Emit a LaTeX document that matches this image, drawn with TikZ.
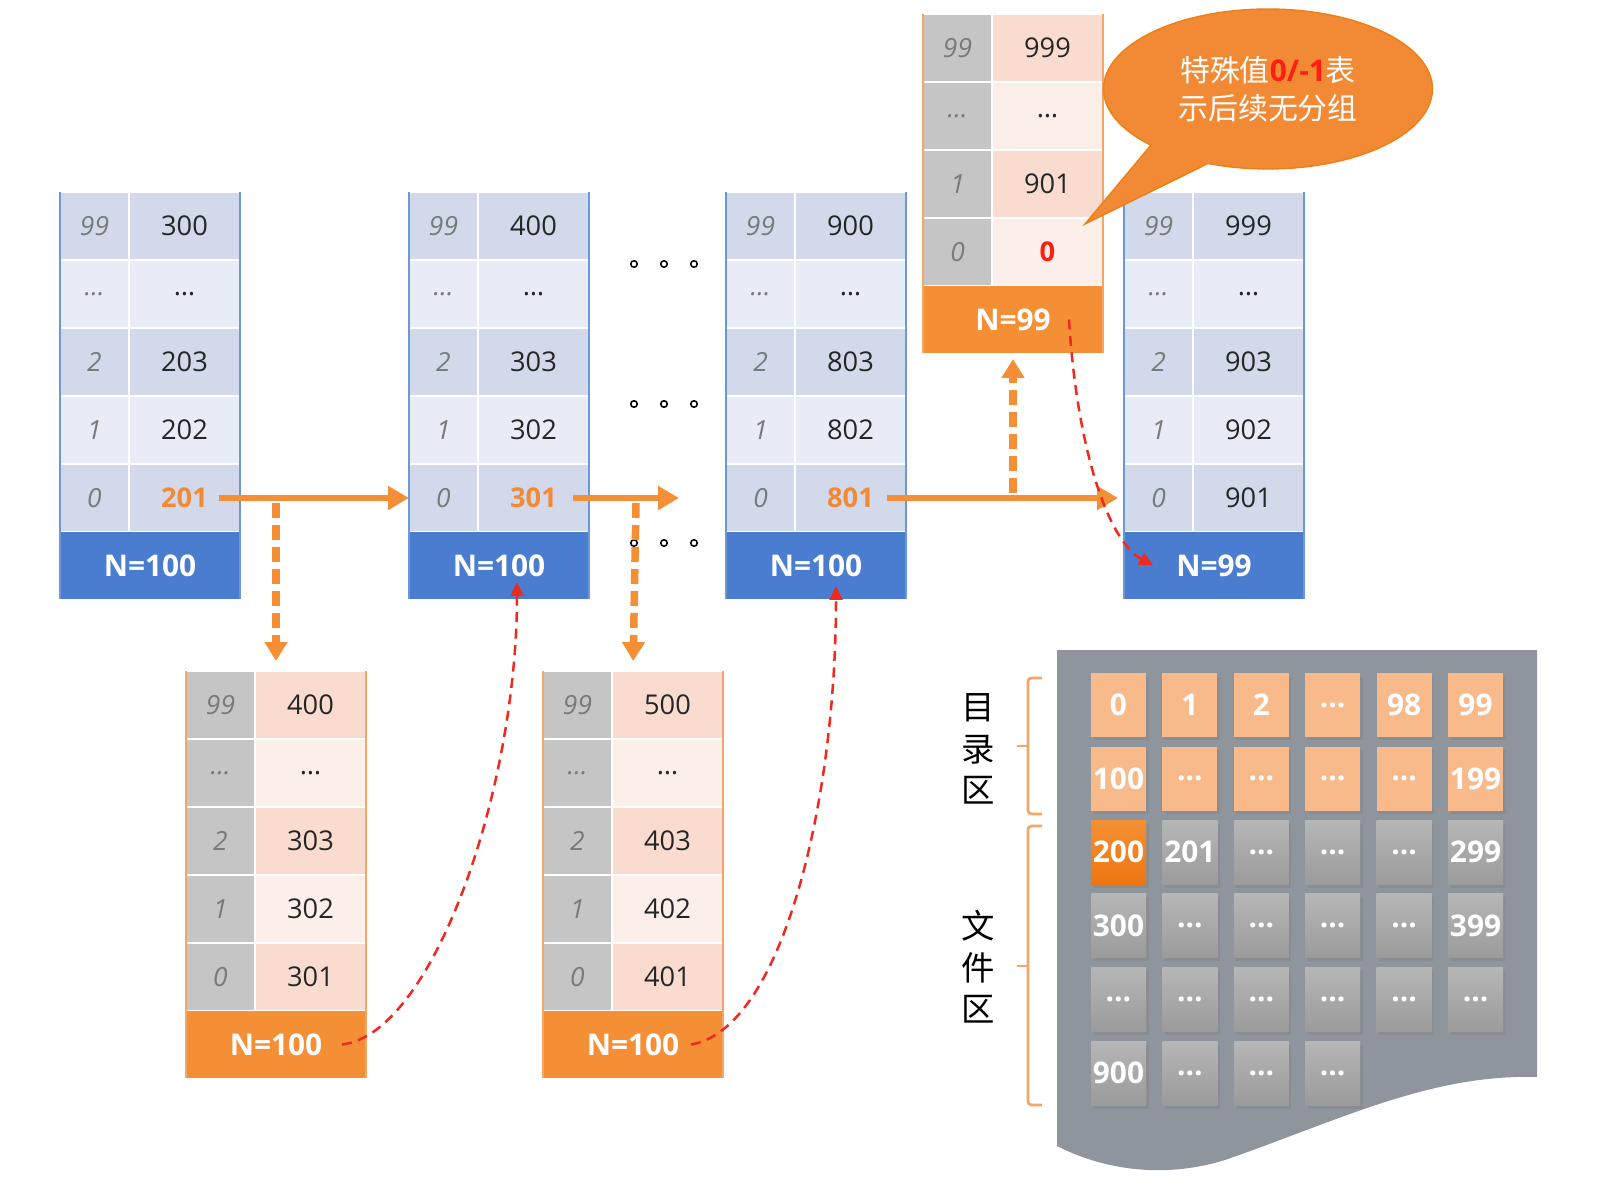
\documentclass[tikz,border=0pt]{standalone}
\usepackage{fontspec}
\setmainfont{Open Sans}
\newfontfamily\cjk{Noto Sans CJK SC}
\usepackage{xcolor}
\usepackage{tikz}
\usetikzlibrary{arrows.meta, calc, shapes.callouts, shadows}

% table colours: <set>i/v <band>, footer n, edge e
\definecolor{blueidark}{HTML}{D2D9EB}
\definecolor{blueilite}{HTML}{E7ECF6}
\definecolor{bluevdark}{HTML}{D2D9EB}
\definecolor{bluevlite}{HTML}{E7ECF6}
\definecolor{bluen}{HTML}{4A7DCF}
\definecolor{bluee}{HTML}{6E97DA}
\definecolor{orgidark}{HTML}{C5C5C5}
\definecolor{orgilite}{HTML}{C5C5C5}
\definecolor{orgvdark}{HTML}{FADBCF}
\definecolor{orgvlite}{HTML}{FCEEE9}
\definecolor{orgn}{HTML}{F58F35}
\definecolor{orge}{HTML}{F2A66A}
\definecolor{hotorange}{HTML}{F28A35}
\definecolor{alertred}{HTML}{FF1E0F}
\definecolor{linkorange}{HTML}{F58F35}
\definecolor{linkred}{HTML}{EE2A1E}
\definecolor{panelgray}{HTML}{8F959D}
\definecolor{idxgray}{HTML}{7A7A7A}
\definecolor{valtext}{HTML}{262626}

\tikzset{
  cell/.style={inner sep=0pt, outer sep=0pt, minimum height=1.36cm, draw=white, line width=1.2pt},
  idx/.style={font=\fontsize{15}{18}\selectfont\itshape, text=idxgray},
  val/.style={font=\fontsize{15.5}{18}\selectfont, text=valtext},
  foot/.style={inner sep=0pt, outer sep=0pt, minimum width=3.6cm, minimum height=1.34cm,
    text=white, font=\fontsize{17}{20}\selectfont\bfseries},
  flowarrow/.style={draw=linkorange, line width=0.14cm, -{Triangle[length=0.42cm,width=0.46cm]}},
  droparrow/.style={draw=linkorange, line width=0.15cm, dash pattern=on 0.3cm off 0.14cm,
    -{Triangle[length=0.38cm,width=0.44cm]}},
  backlink/.style={draw=linkred, line width=0.05cm, dash pattern=on 0.2cm off 0.13cm,
    -{Triangle[length=0.28cm,width=0.26cm]}},
  blk/.style={inner sep=0pt, minimum width=1.1cm, minimum height=1.28cm, text=white,
    font=\fontsize{17}{20}\selectfont\bfseries,
    drop shadow={opacity=0.35, shadow xshift=0.05cm, shadow yshift=-0.07cm}},
  dirblk/.style={blk, fill={rgb,255:red,249;green,186;blue,139}},
  hotblk/.style={blk, top color={rgb,255:red,244;green,144;blue,52}, bottom color={rgb,255:red,238;green,118;blue,17}},
  fileblk/.style={blk, top color={rgb,255:red,182;green,182;blue,182}, bottom color={rgb,255:red,155;green,155;blue,155}},
  zonebrace/.style={draw=orge, line width=1.6pt, rounded corners=2pt},
  zone/.style={align=center, font=\cjk\fontsize{19}{23.6}\selectfont},
  bubble/.style={ellipse callout, callout pointer arc=24, fill=hotorange, draw=orange!70!brown,
    line width=0.8pt, text=white, align=center, inner sep=2pt,
    minimum width=6.58cm, minimum height=3.2cm, font=\cjk\fontsize{17}{21.5}\selectfont},
}

\newcommand{\hotval}[1]{{\color{hotorange}\bfseries #1}}
\newcommand{\redval}[1]{{\color{alertred}\bfseries #1}}

% #1 name, #2 left, #3 top, #4 colour set, #5 rows, #6 index/value list, #7 footer
\newcommand{\grouptab}[7]{%
  \coordinate (#1-top) at ({#2+90},#3);
  \foreach \idxv/\valv [count=\rw from 0] in {#6} {
    \ifodd\rw \def\band{lite}\else \def\band{dark}\fi
    \edef\ifill{#4i\band}\edef\vfill{#4v\band}
    \node[cell, idx, fill=\ifill, minimum width=1.38cm] (#1-i\rw) at ({#2+34.5},{#3+34+68*\rw}) {\idxv};
    \node[cell, val, fill=\vfill, minimum width=2.22cm] (#1-v\rw) at ({#2+124.5},{#3+34+68*\rw}) {\valv};
  }
  \node[foot, fill=#4n] (#1-n) at ({#2+90},{#3+68*#5+33.5}) {#7};
  \draw[draw=#4e, line width=1.4pt] (#2,#3) -- (#2,{#3+68*#5+67})
    ({#2+180},#3) -- ({#2+180},{#3+68*#5+67});
}

\begin{document}
\begin{tikzpicture}[x=0.02cm, y=-0.02cm]
  \useasboundingbox (0,0) rectangle (1612,1192);

  % Directory groups (blue) and file groups (orange)
  \grouptab{t1}{60}{192}{blue}{5}{99/300, \ldots/\ldots, 2/203, 1/202, 0/\hotval{201}}{N=100}
  \grouptab{t2}{409}{192}{blue}{5}{99/400, \ldots/\ldots, 2/303, 1/302, 0/\hotval{301}}{N=100}
  \grouptab{t3}{726}{192}{blue}{5}{99/900, \ldots/\ldots, 2/803, 1/802, 0/\hotval{801}}{N=100}
  \grouptab{t4}{1124}{192}{blue}{5}{99/999, \ldots/\ldots, 2/903, 1/902, 0/901}{N=99}
  \grouptab{tT}{923}{14}{org}{4}{99/999, \ldots/\ldots, 1/901, 0/\redval{0}}{N=99}
  \grouptab{tA}{186}{671}{org}{5}{99/400, \ldots/\ldots, 2/303, 1/302, 0/301}{N=100}
  \grouptab{tB}{543}{671}{org}{5}{99/500, \ldots/\ldots, 2/403, 1/402, 0/401}{N=100}

  % Disk panel
  \fill[panelgray] (1057,650) -- (1537,650) -- (1537,1077)
    .. controls (1430,1074) and (1340,1120) .. (1225,1160)
    .. controls (1160,1180) and (1100,1168) .. (1057,1146) -- cycle;

  % Blocks
  \foreach \rw/\cells in {1/{0,1,2,\ldots,98,99}, 2/{100,\ldots,\ldots,\ldots,\ldots,199},
      3/{200,201,\ldots,\ldots,\ldots,299}, 4/{300,\ldots,\ldots,\ldots,\ldots,399},
      5/{\ldots,\ldots,\ldots,\ldots,\ldots,\ldots}, 6/{900,\ldots,\ldots,\ldots}}
    \foreach \txt [count=\cl] in \cells {
      \ifnum\rw<3 \def\tone{dirblk}\else \def\tone{fileblk}\fi
      \ifnum\rw\cl=31 \def\tone{hotblk}\fi
      \node[\tone] (g\rw-\cl) at ({1118.5+71.4*(\cl-1)},{705+73.6*(\rw-1)}) {\txt};
    }

  % Zone braces
  \draw[zonebrace] (1042,678) -- (1028,678) -- (1028,814) -- (1042,814);
  \draw[zonebrace] (1028,746) -- (1017,746);
  \draw[zonebrace] (1042,826) -- (1028,826) -- (1028,1105) -- (1042,1105);
  \draw[zonebrace] (1028,966) -- (1017,966);
  \node[zone] (dirzone) at (978,749) {目\\录\\区};
  \node[zone] (filezone) at (978,967) {文\\件\\区};

  % Callout
  \node[bubble, callout absolute pointer={(1085,224)}] (note) at (1268,89)
    {特殊值{\rmfamily\bfseries\color{alertred}0/-1}表\\示后续无分组};

  % Gaps between groups
  \foreach \yy in {264,404,543}
    \foreach \xx in {634,664,694}
      \draw[line width=0.9pt, fill=white] (\xx,\yy) circle[radius=0.065cm];

  % Next-group links
  \coordinate (gap) at (679,498);
  \coordinate (drop1) at (276,503);
  \coordinate (drop2) at (636,503);
  \coordinate (rise) at (1013,493);
  \draw[droparrow, shorten >=0.2cm] (drop1) -- (tA-top);
  \draw[droparrow, shorten >=0.2cm] (drop2) -- (tB-top);
  \draw[droparrow, shorten >=0.12cm] (rise) -- (tT-n.south);
  \draw[flowarrow, shorten <=-0.42cm] (t1-v4.east) -- (t2-i4.west);
  \draw[flowarrow, shorten <=-0.32cm] (t2-v4.east) -- (gap);
  \draw[flowarrow, shorten <=-0.38cm, shorten >=0.12cm] (t3-v4.east) -- (t4-i4.west);

  % Back links
  \draw[backlink] ($(tA-n.east)+(-24,0)$) .. controls +(90,-10) and +(0,210) .. ($(t2-n.south)+(18,-17)$);
  \draw[backlink] ($(tB-n.east)+(-32,0)$) .. controls +(90,-15) and +(0,220) .. ($(t3-n.south)+(20,-13)$);
  \draw[backlink] ($(tT-n.east)+(-34,0)$) .. controls +(8,130) and +(-45,-25) .. ($(t4-n.west)+(29,0)$);
\end{tikzpicture}
\end{document}
